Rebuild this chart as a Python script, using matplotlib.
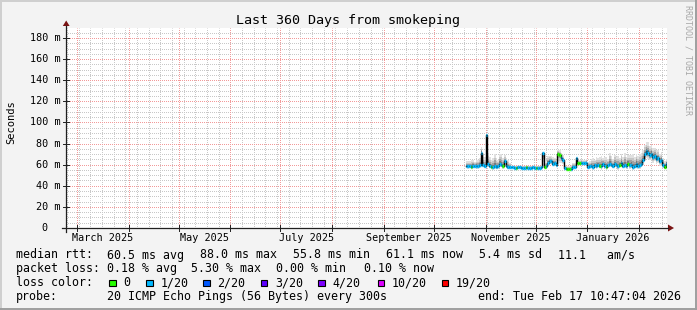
import matplotlib
matplotlib.use("Agg")
import matplotlib.pyplot as plt
import matplotlib.dates as mdates
from matplotlib.lines import Line2D
from matplotlib.patches import Polygon, Rectangle
import numpy as np
import pandas as pd
import calendar
from datetime import datetime, timedelta

W, H = 697, 310
MONO = "DejaVu Sans Mono"

graph_start = datetime(2025, 2, 22, 10, 47, 4)
graph_end = datetime(2026, 2, 17, 10, 47, 4)
data_start = "2025-10-20"

# daily median rtt (ms)
median_ms = (
    [59, 58.5, 59, 58, 59, 58.5, 59, 58.5, 59.5]
    + [71, 60, 59, 88]
    + [61, 59, 58, 57.5, 59, 58, 58.5]
    + [61, 60, 58.5, 63, 59, 58, 57.5]
    + [57.5, 57.5, 57.3, 57.3, 57.5, 57.5, 57.3, 57.3, 57.3, 57.5,
       57.3, 57.3, 57.3, 57.5, 57.3, 57.3, 57.3, 57.3, 57.5]
    + [70.7, 58, 58.5, 62, 63.5, 63, 61, 61.5, 60, 70.5, 69.5, 66, 64]
    + [56.5, 56, 55.8, 55.8, 56, 57.5, 57.5, 66]
    + [61.3, 61.3, 61.3, 61.3, 61.3, 61.3, 57.5]
    + [58.5, 59, 58, 59.5, 58.5, 60, 59, 58.5, 60.5, 59, 58, 59.5, 61, 60, 59, 60.5,
       59.5, 58.5, 60, 61.5, 59, 60, 58.5, 61, 59.5, 60, 58, 59, 60.5, 59, 59.5, 61]
    + [64, 70, 73, 71, 69, 70.5, 67, 68, 65, 66, 63, 64, 60, 58, 61.1]
)

# loss per day in pings out of 20 (0 -> green, 1 -> light blue)
loss_20 = (
    [1, 1, 1, 0, 1, 1, 1, 1, 1, 1, 1, 1, 1, 1, 1, 0, 1, 1, 1, 1]
    + [1, 1, 0, 1, 1, 1, 1, 1, 1, 1, 0, 1, 1, 1, 1, 1, 0, 1, 1, 1]
    + [1, 1, 0, 1, 1, 1, 1, 0, 1, 1, 1, 1, 1, 1, 1, 0, 0, 1, 1, 1]
    + [0, 0, 0, 1, 1, 1, 1, 0, 0, 1, 1, 1, 1, 1, 1, 1, 1, 1, 1, 1]
    + [0, 1, 1, 1, 0, 1, 1, 1, 1, 1, 1, 1, 0, 1, 1, 1, 1, 0, 1, 1]
    + [1, 1, 1, 1, 1, 1, 1, 1, 1, 1, 1, 1, 1, 1, 1, 1, 1, 1, 1, 0]
    + [1]
)

# spread of the smoke above / below the median (ms)
smoke_up = (
    [4, 5, 4, 6, 5, 4, 5, 6, 7, 6, 10, 8, 2, 10, 8, 6, 9, 11, 8, 6]
    + [9, 10, 8, 6, 7, 6, 4]
    + [1.5] * 19
    + [1.5, 4, 5, 6, 5, 5, 6, 5, 4, 3, 4, 5, 5]
    + [3, 3, 3, 3, 4, 4, 4, 1.5, 3, 3, 4, 3, 3, 4, 5]
    + [5, 6, 8, 5, 9, 6, 8, 10, 6, 8, 9, 6, 10, 8, 6, 9, 8, 10, 6, 9, 8, 11, 9, 8, 10,
       9, 12, 8, 10, 9, 11, 10]
    + [10, 9, 8, 10, 9, 8, 9, 8, 9, 8, 7, 8, 6, 5, 4]
)
smoke_down = (
    [2.5, 2.5, 2, 2.5, 2.5, 2, 2.5, 2.5, 3, 10, 2.5, 2.5, 27, 3, 2.5, 2.5, 2.5, 3, 2.5, 2.5]
    + [3, 2.5, 2.5, 4, 2.5, 2.5, 2]
    + [1] * 19
    + [12, 2, 2, 2.5, 2.5, 2.5, 2.5, 2.5, 2, 10, 8, 4, 3]
    + [2, 2, 2, 2, 2, 2, 2, 7, 2, 2, 2, 2, 2, 2, 2]
    + [2.5, 2.5, 3, 2.5, 3, 2.5, 2.5, 3.5, 2.5, 2.5, 3, 2.5, 3.5, 2.5, 2.5, 3, 2.5, 3.5,
       2.5, 3, 2.5, 3.5, 3, 2.5, 3.5, 3, 3.5, 2.5, 3.5, 3, 3.5, 3.5]
    + [4, 6, 7, 6, 5, 6, 5, 5, 4, 4, 4, 4, 3, 2.5, 2.5]
)

loss_colors = {0: "#26ff00", 1: "#00b8ff"}
legend_labels = ["0", "1/20", "2/20", "3/20", "4/20", "10/20", "19/20"]
legend_colors = ["#26ff00", "#00b8ff", "#0059ff", "#5e00ff", "#7e00ff", "#dd00ff", "#ff0000"]

y_top = 189.47


def fx(px):
    return px / W


def fy(py):
    return 1 - py / H


fig = plt.figure(figsize=(W / 100, H / 100), dpi=100, facecolor="#f3f3f3")
ax = fig.add_axes([fx(66), fy(228), 600.5 / W, 200 / H])
ax.set_facecolor("white")
for s in ax.spines.values():
    s.set_visible(False)
ax.set_xticks([])
ax.set_yticks([])

x0, x1 = mdates.date2num(graph_start), mdates.date2num(graph_end)
ax.set_xlim(x0, x1)
ax.set_ylim(0, y_top)

# grid: grey every 5 ms and every Sunday, red every 20 ms and month start
grid_kw = dict(lw=0.72, ls=(0.5, (1, 1)), zorder=1)
for v in np.arange(5, y_top, 5):
    if v % 20:
        ax.axhline(v, color="#c8c8c8", **grid_kw)
sundays = pd.date_range("2025-02-23", graph_end, freq="7D")
for d in sundays:
    ax.axvline(mdates.date2num(d), color="#c8c8c8", **grid_kw)
months = pd.date_range("2025-03-01", graph_end, freq="MS")
for m in months:
    ax.axvline(mdates.date2num(m), color="#f29a9a", **grid_kw)
for v in range(20, 190, 20):
    ax.axhline(v, color="#f29a9a", **grid_kw)

# smoke + median
days = pd.date_range(data_start, periods=len(median_ms), freq="D")
edges = np.append(mdates.date2num(days), x1)
med = np.array(median_ms, dtype=float)
up = np.array(smoke_up, dtype=float)
dn = np.array(smoke_down, dtype=float)
ext = lambda a: np.append(a, a[-1])

shades = [(1.0, "#e0e0e0"), (0.7, "#c6c6c6"), (0.45, "#a2a2a2"), (0.25, "#7a7a7a")]
for k, c in shades:
    ax.fill_between(edges, ext(med - dn * k), ext(med + up * k), step="post",
                    color=c, lw=0, zorder=2)
ax.step(edges, ext(med), where="post", color="black", lw=1.0, zorder=3)
ax.hlines(med, edges[:-1], edges[1:], colors=[loss_colors[l] for l in loss_20], lw=2.4, zorder=4)

# axes with arrows
axis_col = "#202020"
arrow_col = "#7a1414"
fig.add_artist(Line2D([fx(62), fx(668)], [fy(228), fy(228)], color=axis_col, lw=0.9))
fig.add_artist(Line2D([fx(66), fx(66)], [fy(232), fy(26)], color=axis_col, lw=0.9))
fig.add_artist(Polygon([(fx(668), fy(224.5)), (fx(674), fy(228)), (fx(668), fy(231.5))],
                       closed=True, color=arrow_col, lw=0))
fig.add_artist(Polygon([(fx(62.8), fy(26)), (fx(66.2), fy(20.5)), (fx(69.6), fy(26))],
                       closed=True, color=arrow_col, lw=0))

# small ticks on axes
for v in range(0, 190, 20):
    py = 228 - v * 200 / y_top
    fig.add_artist(Line2D([fx(63), fx(69)], [fy(py), fy(py)], color=axis_col, lw=0.7))
for m in months:
    px = 66 + (mdates.date2num(m) - x0) / (x1 - x0) * 600.5
    fig.add_artist(Line2D([fx(px), fx(px)], [fy(225), fy(231)], color=axis_col, lw=0.7))

# y tick labels
for v in range(0, 190, 20):
    py = 228 - v * 200 / y_top
    if v == 0:
        fig.text(fx(47.6), fy(py), "0", ha="right", va="center", family=MONO, fontsize=7.3)
    else:
        fig.text(fx(60.5), fy(py), f"{v} m", ha="right", va="center", family=MONO, fontsize=7.3)

# month labels, centred in the month
for m in months[::2]:
    n = calendar.monthrange(m.year, m.month)[1]
    mid = mdates.date2num(m + timedelta(days=n / 2))
    px = 66 + (mid - x0) / (x1 - x0) * 600.5
    fig.text(fx(px), fy(240.7), m.strftime("%B %Y"), ha="center", va="baseline",
             family=MONO, fontsize=7.3)

fig.text(fx(347.7), fy(24), "Last 360 Days from smokeping", ha="center", va="baseline",
         family=MONO, fontsize=9.6)
fig.text(fx(11), fy(122.6), "Seconds", rotation=90, ha="center", va="center",
         family=MONO, fontsize=7.5)
fig.text(fx(688), fy(60), "RRDTOOL / TOBI OETIKER", rotation=270, ha="center", va="center",
         family=MONO, fontsize=6, color="#a8a8a8")

# legend block
leg = dict(family=MONO, fontsize=8.4, va="baseline", ha="left")
row1 = [(16, "median rtt:"), (107.3, "60.5 ms avg"), (200, "88.0 ms max"),
        (293.3, "55.8 ms min"), (386, "61.1 ms now"), (479.3, "5.4 ms sd"),
        (558.3, "11.1   am/s")]
row2 = [(16, "packet loss:"), (107.3, "0.18 % avg"), (191.5, "5.30 % max"),
        (276, "0.00 % min"), (364, "0.10 % now")]
for px, t in row1:
    fig.text(fx(px), fy(258.5), t, **leg)
for px, t in row2:
    fig.text(fx(px), fy(272.3), t, **leg)
fig.text(fx(16), fy(286.1), "loss color:", **leg)
box_x = [109, 146, 203.3, 260.7, 318.3, 377.7, 441.7]
for bx, lab, c in zip(box_x, legend_labels, legend_colors):
    fig.add_artist(Rectangle((fx(bx), fy(286)), 6.5 / W, 6.5 / H, facecolor=c,
                             edgecolor="black", lw=0.8))
    fig.text(fx(bx + 14.3), fy(286.1), lab, **leg)
fig.text(fx(16), fy(299.9), "probe:", **leg)
fig.text(fx(107.3), fy(299.9), "20 ICMP Echo Pings (56 Bytes) every 300s", **leg)
fig.text(fx(478.3), fy(299.9), "end: Tue Feb 17 10:47:04 2026", **leg)

# 3d border
fig.add_artist(Line2D([0, 1], [fy(0.75), fy(0.75)], color="#cfcfcf", lw=1.4))
fig.add_artist(Line2D([fx(0.75), fx(0.75)], [0, 1], color="#cfcfcf", lw=1.4))
fig.add_artist(Line2D([0, 1], [fy(309), fy(309)], color="#9e9e9e", lw=1.4))
fig.add_artist(Line2D([fx(696), fx(696)], [0, 1], color="#9e9e9e", lw=1.4))

fig.savefig("out.png", dpi=100, facecolor=fig.get_facecolor())
